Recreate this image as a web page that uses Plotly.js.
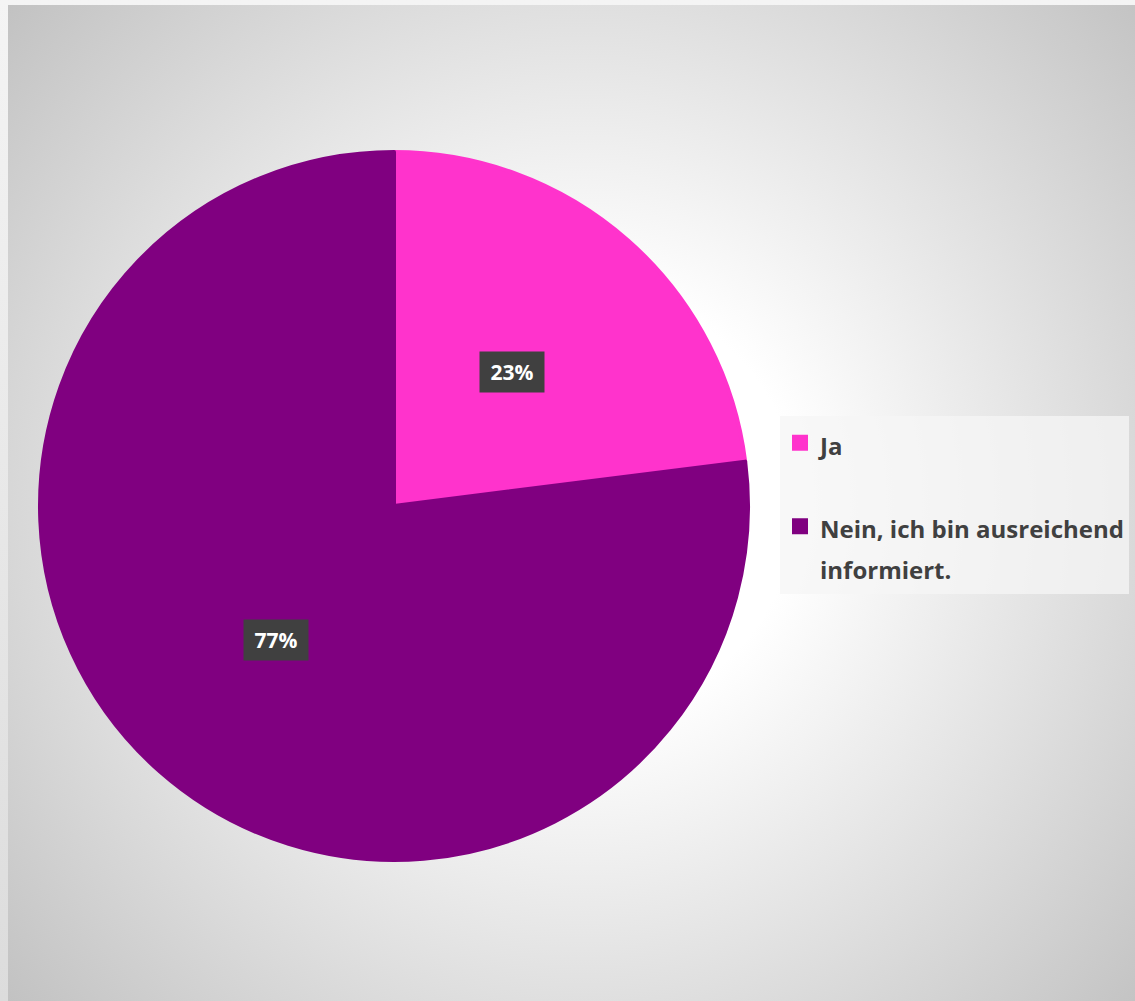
<!DOCTYPE html>
<html>
<head>
<meta charset="utf-8">
<script src="https://cdn.plot.ly/plotly-3.0.1.min.js"></script>
<style>
  html, body { margin: 0; padding: 0; width: 1135px; height: 1001px; overflow: hidden; background: #e6e6e6; }
  #frame { position: absolute; left: 0; top: 0; width: 1135px; height: 1001px; background: linear-gradient(#f4f4f4, #dcdcdc); }
  #bg { position: absolute; left: 8px; top: 5px; width: 1127px; height: 996px;
        background: radial-gradient(circle farthest-corner at 51% 50%, #ffffff 0%, #ffffff 28%, #c2c2c2 100%); }
  #chart { position: absolute; left: 0; top: 0; width: 1135px; height: 1001px; }
</style>
</head>
<body>
<div id="frame"></div>
<div id="bg"></div>
<div id="chart"></div>
<script>
const categories = ["Ja", "Nein, ich bin ausreichend<br>informiert."];
const values = [23, 77];
const colors = ["#FF33CC", "#800080"];

const W = 1135, H = 1001;
const lineW = 4;                       // slice outline in the slice colour (also sizes the legend swatch)
const cxPx = 394, cyPx = 506, rPx = 356 - lineW / 2;
const domX = [(cxPx - rPx) / W, (cxPx + rPx) / W];
const domY = [(H - (cyPx + rPx)) / H, (H - (cyPx - rPx)) / H];

// legend labels: same line count for every entry, drawn at 24px inside a taller line pitch
const maxLines = Math.max(...categories.map(c => c.split("<br>").length));
const legendLabels = categories.map(c => {
  const lines = c.split("<br>");
  while (lines.length < maxLines) lines.push(" ");
  return lines.map(l => "<span style=\"font-size:24px\">" + l + "</span>").join("<br>");
});

const total = values.reduce((a, b) => a + b, 0);
const annotations = [];
let cum = 0;
values.forEach((v, i) => {
  const mid = (cum + v / 2) / total * 2 * Math.PI;
  cum += v;
  const rr = 356 * 0.5;
  annotations.push({
    xref: "paper", yref: "paper",
    x: (cxPx + rr * Math.sin(mid)) / W,
    y: (H - (cyPx - rr * Math.cos(mid))) / H,
    text: Math.round(v / total * 100) + "%",
    showarrow: false,
    font: { family: "'Open Sans', sans-serif", size: 21, color: "#ffffff", weight: 700 },
    bgcolor: "#404040",
    width: 50, height: 26,
    borderpad: 7,
    xanchor: "center", yanchor: "middle"
  });
});

const trace = {
  type: "pie",
  labels: legendLabels,
  values: values,
  sort: false,
  direction: "clockwise",
  rotation: 0,
  textinfo: "none",
  hoverinfo: "percent",
  marker: { colors: colors, line: { width: lineW, color: colors } },
  domain: { x: domX, y: domY }
};

const layout = {
  width: W, height: H,
  margin: { l: 0, r: 0, t: 0, b: 0 },
  paper_bgcolor: "rgba(0,0,0,0)",
  plot_bgcolor: "rgba(0,0,0,0)",
  showlegend: true,
  legend: {
    x: 780 / W, y: (H - 416) / H, xanchor: "left", yanchor: "top",
    bgcolor: "rgba(245,245,245,0.75)",
    font: { family: "'Open Sans', sans-serif", size: 31, color: "#404040", weight: "bold" },
    valign: "top",
    traceorder: "normal",
    itemclick: false
  },
  annotations: annotations
};

Plotly.newPlot("chart", [trace], layout, { displayModeBar: false, staticPlot: true });
</script>
</body>
</html>
